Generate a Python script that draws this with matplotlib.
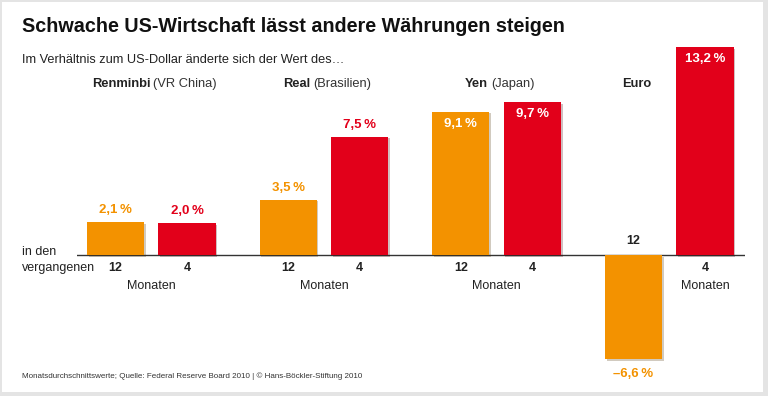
import matplotlib
matplotlib.use("Agg")
import matplotlib.pyplot as plt
import matplotlib.patheffects as pe
from matplotlib.patches import Rectangle

## data
currencies = ["Renminbi", "Real", "Yen", "Euro"]
countries = ["(VR China)", "(Brasilien)", "(Japan)", ""]
months = ["12", "4"]
vals12 = [2.1, 3.5, 9.1, -6.6]
vals4 = [2.0, 7.5, 9.7, 13.2]

title = "Schwache US-Wirtschaft lässt andere Währungen steigen"
subtitle = "Im Verhältnis zum US-Dollar änderte sich der Wert des\u2026"
footer = "Monatsdurchschnittswerte; Quelle: Federal Reserve Board 2010 | \u00a9 Hans-Böckler-Stiftung 2010"

# plot parameters
orange = "#F39200"
red = "#E2001A"
dark = "#222222"
fonts = ["Liberation Sans", "DejaVu Sans"]
plt.rcParams["font.family"] = fonts
groupStep = 2.415
barWidth = 0.8

def fmt(v):
	s = ("%.1f" % abs(v)).replace(".", ",") + "\u2009%"
	return ("\u2013" + s) if v < 0 else s

fig = plt.figure(figsize=(7.68, 3.96), dpi=100)
fig.set_facecolor("#e4e4e4")
fig.patches.append(Rectangle((2/768, 4/396), 761/768, 390/396, transform=fig.transFigure,
                             facecolor="white", edgecolor="none", zorder=-10))

ax = fig.add_axes([77/768, 26/396, 668/768, 330/396])
ax.set_facecolor("none")
for s in ax.spines.values():
	s.set_visible(False)
ax.set_xticks([])
ax.set_yticks([])
ax.set_xlim(-0.538, 8.804)
ax.set_ylim(-7.30, 13.64)
ax.axhline(0, color="#333333", lw=1.0, zorder=1)

shadow = [pe.SimplePatchShadow(offset=(1.2, -1.2), alpha=0.25), pe.Normal()]
for g in range(len(currencies)):
	x0 = g * groupStep
	x1 = x0 + 1
	for x, v, c in ((x0, vals12[g], orange), (x1, vals4[g], red)):
		b = ax.bar(x, v, width=barWidth, color=c, zorder=2)
		b[0].set_path_effects(shadow)
		# value labels
		if v > 8:
			ax.annotate(fmt(v), (x, v), xytext=(0, -12), textcoords="offset pixels",
			            ha="center", va="center", color="white", fontsize=9.5, fontweight="bold")
		elif v < 0:
			ax.annotate(fmt(v), (x, v), xytext=(0, -15), textcoords="offset pixels",
			            ha="center", va="center", color=c, fontsize=9.5, fontweight="bold")
		else:
			ax.annotate(fmt(v), (x, v), xytext=(0, 12), textcoords="offset pixels",
			            ha="center", va="center", color=c, fontsize=9.5, fontweight="bold")
	# month tick labels
	for x, v, m in ((x0, vals12[g], months[0]), (x1, vals4[g], months[1])):
		dy = 14 if v < 0 else -13
		ax.annotate(m, (x, 0), xytext=(0, dy), textcoords="offset pixels",
		            ha="center", va="center", color=dark, fontsize=9, fontweight="bold")
	mx = x1 if vals12[g] < 0 else (x0 + x1) / 2
	ax.annotate("Monaten", (mx, 0), xytext=(0, -31), textcoords="offset pixels",
	            ha="center", va="center", color=dark, fontsize=9)

# currency headers: bold name + regular country, centred together
fig.canvas.draw()
r = fig.canvas.get_renderer()
yHead = 1 - 84/396
for g in range(len(currencies)):
	x0 = g * groupStep
	cx = x0 if vals12[g] < 0 else x0 + 0.5
	px = ax.transData.transform((cx, 0))[0] / 768
	tb = fig.text(0, yHead, currencies[g], fontsize=9.3, fontweight="bold", color=dark, va="center")
	tr = fig.text(0, yHead, countries[g], fontsize=9.3, color="#333333", va="center")
	wb = tb.get_window_extent(r).width / 768
	wr = tr.get_window_extent(r).width / 768 if countries[g] else 0
	gap = 3/768 if countries[g] else 0
	left = px - (wb + gap + wr) / 2 + 3/768
	tb.set_x(left)
	tr.set_x(left + wb + gap)

fig.text(22/768, 1 - 27/396, title, fontsize=14.2, fontweight="bold", color="#111111", va="center")
fig.text(22/768, 1 - 60/396, subtitle, fontsize=9.2, color="#222222", va="center")
fig.text(22/768, 1 - 252/396, "in den", fontsize=9, color=dark, va="center")
fig.text(22/768, 1 - 268/396, "vergangenen", fontsize=9, color=dark, va="center")
fig.text(22/768, 1 - 376/396, footer, fontsize=5.8, color="#333333", va="center")

fig.savefig("out.png", dpi=100, facecolor=fig.get_facecolor())
